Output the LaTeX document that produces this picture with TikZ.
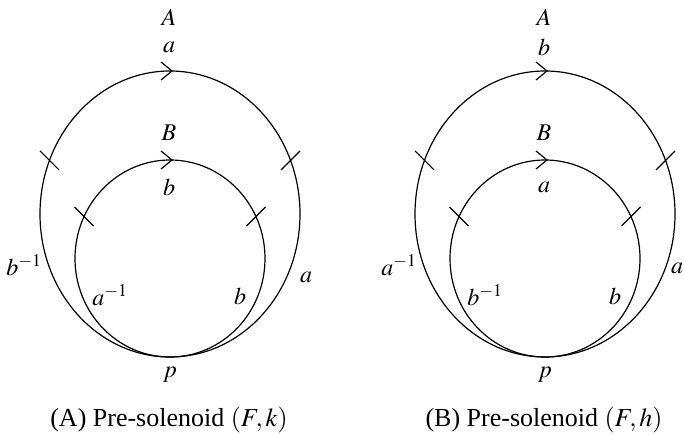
\documentclass[tikz,border=0pt]{standalone}
\usepackage{mathptmx}
\usepackage[no-math]{fontspec}
\setmainfont{Liberation Serif}
\tikzset{
  curve/.style={line width=1.2pt, line join=miter},
  tickmark/.style={line width=1.2pt},
  lab/.style={font=\fontsize{24}{28}\selectfont, inner sep=0pt},
  caplab/.style={font=\fontsize{26}{30}\selectfont, inner sep=0pt},
}
% #1 top outer label, #2 top inner label, #3 left outer,
% #5 left inner, #6 right inner, #7 caption prefix, #8 map letter, #9 name prefix
\newcommand{\solfig}[9]{%
  \draw[curve] (170,214) ellipse [x radius=130pt, y radius=143pt];
  \draw[curve] (170,258.5) ellipse [x radius=95pt, y radius=98.5pt];
  \draw[curve] (161,62) -- (172,71) -- (161,80);
  \draw[curve] (161,151) -- (172,160) -- (161,169);
  \coordinate (#9oL) at (49.5,160.4);
  \coordinate (#9oR) at (290.5,160.4);
  \coordinate (#9iL) at (84,216.5);
  \coordinate (#9iR) at (256,216.5);
  \draw[tickmark] (#9oL) ++(-9.5,-9.5) -- ++(19,19);
  \draw[tickmark] (#9oR) ++(-9.5,9.5) -- ++(19,-19);
  \draw[tickmark] (#9iL) ++(-9.5,-9.5) -- ++(19,19);
  \draw[tickmark] (#9iR) ++(-9.5,9.5) -- ++(19,-19);
  \node[lab] (#9A) at (169,17) {$A$};
  \node[lab] (#9ta) at (169,47) {$#1$};
  \node[lab] (#9B) at (169,133) {$B$};
  \node[lab] (#9tb) at (169,187) {$#2$};
  \node[lab] (#9ol) at (24,265) {$#3$};
  \node[lab] (#9il) at (110,295) {$#5$};
  \node[lab] (#9ir) at (240,296) {$#6$};
  \node[lab] (#9p) at (170,375) {$p$};
  \node[caplab] (#9cap) at (169,420) {#7 Pre-solenoid $(F,#8)$};
}
\begin{document}
\begin{tikzpicture}[x=1pt,y=-1pt]
  \useasboundingbox (0,0) rectangle (684,435);
  \begin{scope}
    \solfig{a}{b}{b^{-1}}{a}{a^{-1}}{b}{(A)}{k}{L}
    \node[lab] (Lor) at (306,277) {$a$};
  \end{scope}
  \begin{scope}[xshift=375pt]
    \solfig{b}{a}{a^{-1}}{a}{b^{-1}}{b}{(B)}{h}{R}
    \node[lab] (Ror) at (302,268) {$a$};
  \end{scope}
\end{tikzpicture}
\end{document}
